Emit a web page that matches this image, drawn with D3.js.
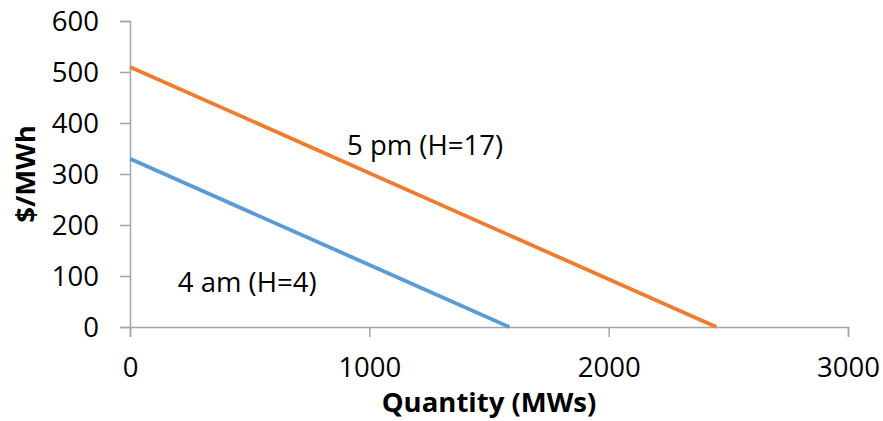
<!DOCTYPE html>
<html>
<head>
<meta charset="utf-8">
<script src="https://cdn.jsdelivr.net/npm/d3@7"></script>
<style>
  html, body { margin: 0; padding: 0; background: #fff; }
  svg { display: block; font-family: "Open Sans", "Noto Sans", sans-serif; }
</style>
</head>
<body>
<svg id="chart" width="883" height="421"></svg>
<script>
// Linear demand curves: price ($/MWh) vs quantity (MW)
const xTicks = [0, 1000, 2000, 3000];
const yTicks = [0, 100, 200, 300, 400, 500, 600];

const seriesNames = ["4 am (H=4)", "5 pm (H=17)"];
const seriesColors = ["#5B9BD5", "#ED7D31"];
const quantities4am = [0, 1585];
const prices4am = [330, 0];
const quantities5pm = [0, 2450];
const prices5pm = [510, 0];
// label anchor points (data coordinates)
const labelQ = [200, 907];
const labelP = [68, 337];

const svg = d3.select("#chart");
const margin = { left: 130, right: 35, top: 21, bottom: 94 };
const W = 883, H = 421;

const x = d3.scaleLinear().domain([0, 3000]).range([margin.left, W - margin.right]);
const y = d3.scaleLinear().domain([0, 600]).range([H - margin.bottom, margin.top]);

const axisColor = "#a6a6a6";
const fontSize = 27.5;

// y axis
const yAxis = svg.append("g")
  .attr("transform", `translate(${x(0)},0)`)
  .call(d3.axisLeft(y).tickValues(yTicks).tickSize(10).tickPadding(21).tickFormat(d3.format("d")));
yAxis.select(".domain").attr("stroke", axisColor).attr("stroke-width", 1.5);
yAxis.selectAll(".tick line").attr("stroke", axisColor).attr("stroke-width", 1.5);
yAxis.selectAll(".tick text").attr("font-size", fontSize).attr("fill", "#000")
  .attr("font-family", "'Open Sans', sans-serif").attr("dy", "0.35em");

// x axis
const xAxis = svg.append("g")
  .attr("transform", `translate(0,${y(0)})`)
  .call(d3.axisBottom(x).tickValues(xTicks).tickSize(10).tickPadding(20).tickFormat(d3.format("d")));
xAxis.select(".domain").attr("stroke", axisColor).attr("stroke-width", 1.5);
xAxis.selectAll(".tick line").attr("stroke", axisColor).attr("stroke-width", 1.5);
xAxis.selectAll(".tick text").attr("font-size", fontSize).attr("fill", "#000")
  .attr("font-family", "'Open Sans', sans-serif");

// lines
const line = d3.line().x(d => x(d[0])).y(d => y(d[1]));
const series = [
  d3.zip(quantities4am, prices4am),
  d3.zip(quantities5pm, prices5pm)
];
svg.selectAll("path.series")
  .data(series)
  .join("path")
  .attr("class", "series")
  .attr("d", line)
  .attr("fill", "none")
  .attr("stroke", (d, i) => seriesColors[i])
  .attr("stroke-width", 3.8);

// series labels
svg.selectAll("text.series-label")
  .data(seriesNames)
  .join("text")
  .attr("class", "series-label")
  .attr("x", (d, i) => x(labelQ[i]))
  .attr("y", (d, i) => y(labelP[i]))
  .attr("font-size", fontSize)
  .attr("fill", "#000")
  .text(d => d);

// axis titles
svg.append("text")
  .attr("x", 489).attr("y", 412)
  .attr("text-anchor", "middle")
  .attr("font-size", fontSize).attr("font-weight", "bold")
  .text("Quantity (MWs)");

svg.append("text")
  .attr("transform", "translate(35,174) rotate(-90)")
  .attr("text-anchor", "middle")
  .attr("font-size", fontSize).attr("font-weight", "bold")
  .text("$/MWh");
</script>
</body>
</html>
